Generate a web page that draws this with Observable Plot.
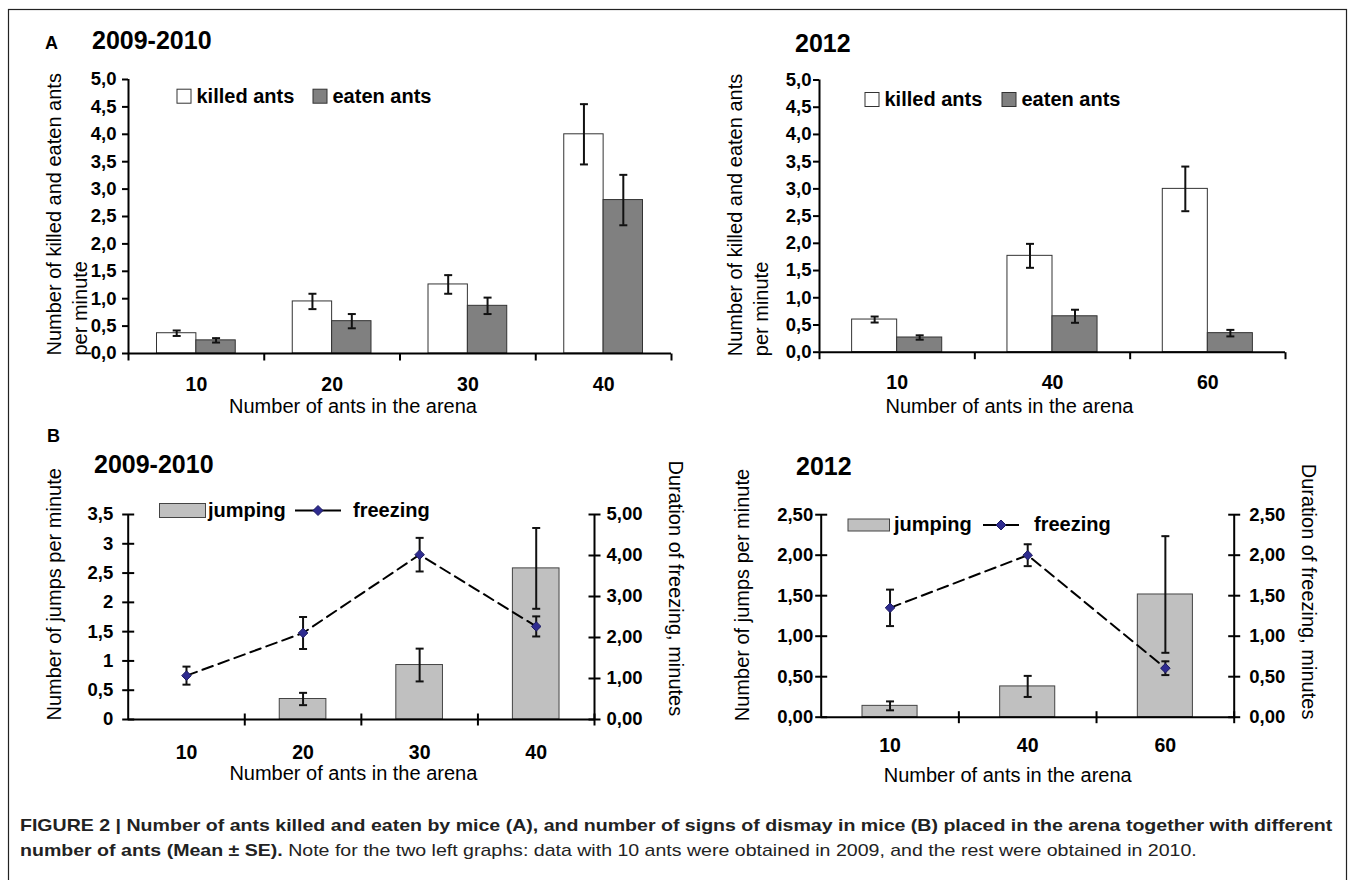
<!DOCTYPE html>
<html><head><meta charset="utf-8">
<script src="https://cdn.jsdelivr.net/npm/d3@7"></script>
<script src="https://cdn.jsdelivr.net/npm/@observablehq/plot@0.6"></script>
<style>
body{margin:0;background:#fff;}
#fig{position:relative;width:1355px;height:880px;font-family:"Liberation Sans",Arial,sans-serif;color:#000;overflow:hidden;background:#fff;}
#fig svg.plotpanel{position:absolute;}
#overlay{position:absolute;left:0;top:0;pointer-events:none;}
#caption{position:absolute;left:20px;top:813px;font-size:17px;line-height:25px;white-space:nowrap;color:#222;transform:scaleX(1.15);transform-origin:0 0;}
</style></head>
<body><div id="fig"></div>
<script>
// ---------------- DATA ----------------
// Panel A, 2009-2010
const catsA1 = ["10", "20", "30", "40"];
const killedA1 = [0.37, 0.95, 1.26, 4.00];
const killedSeA1 = [0.05, 0.14, 0.17, 0.55];
const eatenA1 = [0.24, 0.59, 0.87, 2.80];
const eatenSeA1 = [0.04, 0.13, 0.15, 0.46];
// Panel A, 2012
const catsA2 = ["10", "40", "60"];
const killedA2 = [0.60, 1.77, 3.00];
const killedSeA2 = [0.055, 0.22, 0.41];
const eatenA2 = [0.27, 0.66, 0.35];
const eatenSeA2 = [0.04, 0.12, 0.06];
// Panel B, 2009-2010
const catsB1 = ["10", "20", "30", "40"];
const jumpB1 = [0, 0.35, 0.93, 2.58];
const jumpSeB1 = [0, 0.105, 0.28, 0.69];
const freezeB1 = [1.07, 2.11, 4.02, 2.27];
const freezeSeB1 = [0.22, 0.39, 0.41, 0.245];
// Panel B, 2012
const catsB2 = ["10", "40", "60"];
const jumpB2 = [0.14, 0.38, 1.515];
const jumpSeB2 = [0.055, 0.13, 0.72];
const freezeB2 = [1.35, 2.00, 0.605];
const freezeSeB2 = [0.225, 0.135, 0.085];
// Tick values
const yTicksA = [0, 0.5, 1, 1.5, 2, 2.5, 3, 3.5, 4, 4.5, 5];
const yTicksB1 = [0, 0.5, 1, 1.5, 2, 2.5, 3, 3.5];
const y2TicksB1 = [0, 1, 2, 3, 4, 5];
const yTicksB2 = [0, 0.5, 1, 1.5, 2, 2.5];
const y2TicksB2 = [0, 0.5, 1, 1.5, 2, 2.5];

// ---------------- HELPERS ----------------
const FONT = "'Liberation Sans', Arial, Helvetica, sans-serif";
const comma = s => s.replace(".", ",");
const fmt1 = v => comma(v.toFixed(1));
const fmt2 = v => comma(v.toFixed(2));
const fmtG = v => comma(String(+v.toFixed(2)));
const hSym = (a, b) => ({draw(ctx) { ctx.moveTo(a, 0); ctx.lineTo(b, 0); }});
const vSym = (a, b) => ({draw(ctx) { ctx.moveTo(0, a); ctx.lineTo(0, b); }});
const fig = document.getElementById("fig");

function place(svg, box) {
  svg.classList.add("plotpanel");
  svg.style.left = box[0] + "px";
  svg.style.top = box[1] + "px";
  fig.appendChild(svg);
}
function geom(box, frame) {
  return {
    width: box[2] - box[0], height: box[3] - box[1],
    marginLeft: frame[0] - box[0], marginRight: box[2] - frame[2],
    marginTop: frame[1] - box[1], marginBottom: box[3] - frame[3]
  };
}
function errMarks(rows, xf, mf, sf, k) {
  const r = rows.filter(d => sf(d) > 0);
  const caps = r.flatMap(d => [
    {x: xf(d), y: (mf(d) + sf(d)) * k},
    {x: xf(d), y: (mf(d) - sf(d)) * k}
  ]);
  return [
    Plot.ruleX(r, {x: xf, y1: d => (mf(d) - sf(d)) * k, y2: d => (mf(d) + sf(d)) * k, stroke: "#111", strokeWidth: 2}),
    Plot.dot(caps, {x: "x", y: "y", symbol: hSym(-4, 4), r: 4, fill: "none", stroke: "#111", strokeWidth: 2})
  ];
}

// ---------------- PANEL A ----------------
function panelA(o) {
  const n = o.cats.length;
  const rows = o.cats.map((c, i) => ({i, c, k: o.killed[i], kse: o.killedSe[i], e: o.eaten[i], ese: o.eatenSe[i]}));
  const hw = 0.29;
  const svg = Plot.plot({
    ...geom(o.box, o.frame),
    style: {fontFamily: FONT, background: "transparent", overflow: "visible", color: "#000"},
    x: {domain: [0, n], axis: null},
    y: {domain: [0, 5], axis: null},
    marks: [
      Plot.rect(rows, {x1: d => d.i + 0.5 - hw, x2: d => d.i + 0.5, y1: 0, y2: "k", fill: "#ffffff", stroke: "#333", strokeWidth: 1}),
      Plot.rect(rows, {x1: d => d.i + 0.5, x2: d => d.i + 0.5 + hw, y1: 0, y2: "e", fill: "#808080", stroke: "#333", strokeWidth: 1}),
      ...errMarks(rows, d => d.i + 0.5 - hw / 2, d => d.k, d => d.kse, 1),
      ...errMarks(rows, d => d.i + 0.5 + hw / 2, d => d.e, d => d.ese, 1),
      Plot.ruleX([0], {stroke: "#000", strokeWidth: 2}),
      Plot.ruleY([0], {stroke: "#000", strokeWidth: 2}),
      Plot.axisY(yTicksA, {tickSize: 6, tickPadding: o.tickPad, tickFormat: fmt1, fontSize: 18.5, fontWeight: "bold", strokeWidth: 2}),
      Plot.dot(d3.range(n + 1), {x: d => d, y: 0, symbol: vSym(0, 7), r: 4, fill: "none", stroke: "#000", strokeWidth: 2}),
      Plot.text(rows, {x: d => d.i + 0.5, frameAnchor: "bottom", text: "c", dy: 31, lineAnchor: "middle", fontSize: 19.5, fontWeight: "bold"}),
      Plot.text(["Number of ants in the arena"], {frameAnchor: "bottom", dx: o.xtDx, dy: o.xtDy, lineAnchor: "middle", fontSize: 20}),
      Plot.text(["Number of killed and eaten ants\nper minute"], {frameAnchor: "bottom-left", rotate: -90, textAnchor: "start", lineAnchor: "middle", lineHeight: 1.3, dx: o.ytDx, dy: o.ytDy, fontSize: 20})
    ]
  });
  place(svg, o.box);
}

// ---------------- PANEL B ----------------
function panelB(o) {
  const n = o.cats.length;
  const k = o.ymax / o.y2max;
  const rows = o.cats.map((c, i) => ({i, c, j: o.jump[i], jse: o.jumpSe[i], f: o.freeze[i], fse: o.freezeSe[i]}));
  const hw = 0.2;
  const svg = Plot.plot({
    ...geom(o.box, o.frame),
    style: {fontFamily: FONT, background: "transparent", overflow: "visible", color: "#000"},
    x: {domain: [0, n], axis: null},
    y: {domain: [0, o.ymax], axis: null},
    marks: [
      Plot.rect(rows.filter(d => d.j > 0), {x1: d => d.i + 0.5 - hw, x2: d => d.i + 0.5 + hw, y1: 0, y2: "j", fill: "#c0c0c0", stroke: "#444", strokeWidth: 1}),
      ...errMarks(rows, d => d.i + 0.5, d => d.j, d => d.jse, 1),
      Plot.line(rows, {x: d => d.i + 0.5, y: d => d.f * k, stroke: "#000", strokeWidth: 2, strokeDasharray: "11,6"}),
      ...errMarks(rows, d => d.i + 0.5, d => d.f, d => d.fse, k),
      Plot.dot(rows, {x: d => d.i + 0.5, y: d => d.f * k, symbol: "diamond2", r: 4.3, fill: "#2e2b90", stroke: "#1c1a60", strokeWidth: 1}),
      Plot.ruleX([0], {stroke: "#000", strokeWidth: 2}),
      Plot.ruleX([n], {stroke: "#000", strokeWidth: 2}),
      Plot.ruleY([0], {stroke: "#000", strokeWidth: 2}),
      Plot.axisY(o.yTicks, {tickSize: 0, tickPadding: o.tickPadL, tickFormat: o.fmtL, fontSize: 18.5, fontWeight: "bold"}),
      Plot.dot(o.yTicks, {x: 0, y: d => d, symbol: hSym(-6, 6), r: 4, fill: "none", stroke: "#000", strokeWidth: 2}),
      Plot.axisY(o.y2Ticks.map(v => v * k), {anchor: "right", tickSize: 0, tickPadding: o.tickPadR, tickFormat: v => fmt2(v / k), fontSize: 18.5, fontWeight: "bold"}),
      Plot.dot(o.y2Ticks, {x: n, y: d => d * k, symbol: hSym(-6, 6), r: 4, fill: "none", stroke: "#000", strokeWidth: 2}),
      Plot.dot(d3.range(1, n + 1), {x: d => d, y: 0, symbol: vSym(-6, 6), r: 4, fill: "none", stroke: "#000", strokeWidth: 2}),
      Plot.text(rows, {x: d => d.i + 0.5, frameAnchor: "bottom", text: "c", dy: o.xlDy, lineAnchor: "middle", fontSize: 19.5, fontWeight: "bold"}),
      Plot.text(["Number of ants in the arena"], {frameAnchor: "bottom", dx: o.xtDx, dy: o.xtDy, lineAnchor: "middle", fontSize: 20}),
      Plot.text(["Number of jumps per minute"], {frameAnchor: "bottom-left", rotate: -90, textAnchor: "start", lineAnchor: "middle", dx: o.ytDx, dy: o.ytDy, fontSize: 20}),
      Plot.text(["Duration of freezing, minutes"], {frameAnchor: "top-right", rotate: 90, textAnchor: "start", lineAnchor: "middle", dx: o.y2tDx, dy: o.y2tDy, fontSize: 20})
    ]
  });
  place(svg, o.box);
}

panelA({box: [10, 20, 680, 425], frame: [128, 79, 671, 353], cats: catsA1, killed: killedA1, killedSe: killedSeA1, eaten: eatenA1, eatenSe: eatenSeA1,
  tickPad: 6, xtDx: -47, xtDy: 53, ytDx: -63, ytDy: 2});
panelA({box: [690, 20, 1340, 425], frame: [819, 79.5, 1285, 351.7], cats: catsA2, killed: killedA2, killedSe: killedSeA2, eaten: eatenA2, eatenSe: eatenSeA2,
  tickPad: 2, xtDx: -43, xtDy: 54, ytDx: -73, ytDy: 4});
panelB({box: [10, 425, 690, 800], frame: [127.7, 514, 594, 719], cats: catsB1, jump: jumpB1, jumpSe: jumpSeB1, freeze: freezeB1, freezeSe: freezeSeB1,
  ymax: 3.5, y2max: 5, yTicks: yTicksB1, y2Ticks: y2TicksB1, fmtL: fmtG, tickPadL: 15, tickPadR: 12,
  xlDy: 33, xtDx: -8, xtDy: 54, ytDx: -74, ytDy: 1, y2tDx: 81, y2tDy: -54});
panelB({box: [690, 425, 1345, 800], frame: [820.7, 514.2, 1233.7, 716.7], cats: catsB2, jump: jumpB2, jumpSe: jumpSeB2, freeze: freezeB2, freezeSe: freezeSeB2,
  ymax: 2.5, y2max: 2.5, yTicks: yTicksB2, y2Ticks: y2TicksB2, fmtL: fmt2, tickPadL: 8, tickPadR: 15,
  xlDy: 29, xtDx: -20, xtDy: 58, ytDx: -79, ytDy: 4, y2tDx: 74, y2tDy: -51});

// ---------------- ANNOTATIONS (titles, legends, frame) ----------------
const ov = d3.select(fig).append("svg").attr("id", "overlay").attr("width", 1355).attr("height", 880)
  .style("font-family", FONT);
ov.append("rect").attr("x", 8.5).attr("y", 9.5).attr("width", 1338).attr("height", 880).attr("fill", "none").attr("stroke", "#222").attr("stroke-width", 1.2);
function t(x, y, s, size, weight, anchor) {
  ov.append("text").attr("x", x).attr("y", y).attr("font-size", size).attr("font-weight", weight || "normal")
    .attr("text-anchor", anchor || "start").text(s);
}
t(45, 49, "A", 18, "bold");
t(92, 49, "2009-2010", 25, "bold");
t(795, 51.5, "2012", 25, "bold");
t(47, 442, "B", 18, "bold");
t(94, 472.5, "2009-2010", 25, "bold");
t(796, 475, "2012", 25, "bold");

// legends panel A
function legA(x1, x2, y) {
  ov.append("rect").attr("x", x1).attr("y", y - 13.5).attr("width", 14).attr("height", 14).attr("fill", "#fff").attr("stroke", "#333");
  t(x1 + 19.5, y, "killed ants", 20, "bold");
  ov.append("rect").attr("x", x2).attr("y", y - 13.5).attr("width", 14).attr("height", 14).attr("fill", "#808080").attr("stroke", "#333");
  t(x2 + 19.5, y, "eaten ants", 20, "bold");
}
legA(177, 313, 102.7);
legA(865, 1002, 106);
// legends panel B
function legB(x, y, w, h, tx, lx1, lx2, fx, base) {
  ov.append("rect").attr("x", x).attr("y", y).attr("width", w).attr("height", h).attr("fill", "#c0c0c0").attr("stroke", "#444");
  t(tx, base, "jumping", 20, "bold");
  const cy = y + h / 2;
  ov.append("line").attr("x1", lx1).attr("x2", lx2).attr("y1", cy).attr("y2", cy).attr("stroke", "#000").attr("stroke-width", 2);
  const cx = (lx1 + lx2) / 2, r = 5;
  ov.append("path").attr("d", `M${cx},${cy - r}L${cx + r},${cy}L${cx},${cy + r}L${cx - r},${cy}Z`).attr("fill", "#2e2b90").attr("stroke", "#1c1a60");
  t(fx, base, "freezing", 20, "bold");
}
legB(159.5, 503.5, 46, 14, 208, 295, 341, 353, 516.5);
legB(848, 519, 41.5, 12, 894, 983, 1019, 1034, 531);

// caption
const cap = document.createElement("div");
cap.id = "caption";
cap.innerHTML = "<b>FIGURE 2 | Number of ants killed and eaten by mice (A), and number of signs of dismay in mice (B) placed in the arena together with different</b><br><b>number of ants (Mean ± SE).</b> Note for the two left graphs: data with 10 ants were obtained in 2009, and the rest were obtained in 2010.";
fig.appendChild(cap);
</script>
</body></html>
